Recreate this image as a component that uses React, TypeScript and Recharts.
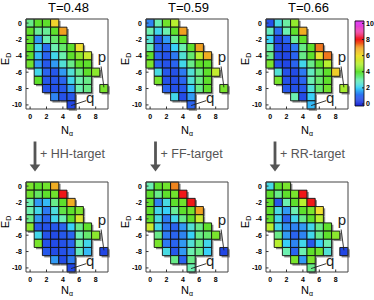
import React from 'react';
import { ComposedChart, XAxis, YAxis, ReferenceArea, ReferenceLine, ReferenceDot, Scatter } from 'recharts';

const _ = null;

// axes categories
const N_ALPHA = [0, 1, 2, 3, 4, 5, 6, 7, 8, 9];
const E_D = [0, -1, -2, -3, -4, -5, -6, -7, -8, -9, -10];
const X_TICKS = [0, 2, 4, 6, 8];
const Y_TICKS = [0, -2, -4, -6, -8, -10];
const CB_TICKS = [0, 2, 4, 6, 8, 10];
const TITLES = ['T=0.48', 'T=0.59', 'T=0.66'];
const TARGETS = ['+ HH-target', '+ FF-target', '+ RR-target'];

// rows: E_D = 0 .. -10, columns: N_alpha = 0 .. 9
const T048 = [
  [3.3, 4, 4, 6.2, _, _, _, _, _, _],
  [4, 3.2, 3.2, 4, 7, _, _, _, _, _],
  [4, 1.5, 3, 3.5, 4, _, _, _, _, _],
  [4, 2.2, 1.1, 3, 3.5, 4, 6, _, _, _],
  [4, 1.8, 1, 2.2, 3, 4, 4.5, 5.3, _, _],
  [4.2, 1.5, 0.8, 1.5, 2.5, 3.3, 4, 4, _, _],
  [_, 2.2, 1, 0.8, 1.5, 2.5, 3.3, 4, 4.5, _],
  [_, 4, 0.8, 0.8, 1, 2.2, 3, 3.3, _, _],
  [_, _, 0.7, 0.7, 0.8, 1.5, 3, 3.3, _, 4.3],
  [_, _, _, 1.3, 0.7, 0.8, _, _, _, _],
  [_, _, _, _, _, 0.5, _, _, _, _],
];
const T059 = [
  [1.3, 3, 4.2, 5, _, _, _, _, _, _],
  [3, 2.2, 3, 4, 7, _, _, _, _, _],
  [2.5, 0.8, 1.5, 3.2, 4, _, _, _, _, _],
  [3, 1, 1, 2, 3, 4, 7, _, _, _],
  [4, 1, 0.7, 1.2, 2.5, 3.5, 5, 6.8, _, _],
  [4.3, 1, 0.7, 1, 2.2, 3.3, 4, 4, _, _],
  [_, 2.3, 0.8, 0.7, 1.2, 2.5, 3.3, 4, 5.2, _],
  [_, 4.3, 0.7, 0.7, 1, 2.5, 3.3, 4, _, _],
  [_, _, 1, 0.7, 0.8, 2, 3.3, 4, _, 4.3],
  [_, _, _, 2.2, 0.6, 1.5, _, _, _, _],
  [_, _, _, _, _, 1, _, _, _, _],
];
const T066 = [
  [0.7, 2.3, 3.1, 4.6, _, _, _, _, _, _],
  [2.8, 1.1, 3, 4, 6.8, _, _, _, _, _],
  [2, 0.5, 1, 3.2, 4, _, _, _, _, _],
  [3, 0.6, 0.6, 1.2, 3.3, 4, 7.3, _, _, _],
  [3.3, 0.6, 0.5, 1, 3.3, 4, 5.9, 7.3, _, _],
  [4.3, 0.7, 0.5, 1, 2.2, 3.3, 4, 5, _, _],
  [_, 2.5, 0.7, 0.6, 1.2, 2.8, 3.5, 4, 6.3, _],
  [_, 4.3, 0.7, 0.6, 1, 3, 3.5, 4, _, _],
  [_, _, 0.8, 0.7, 0.8, 2.5, 3.5, 4.2, _, 4.8],
  [_, _, _, 3, 0.6, 2, _, _, _, _],
  [_, _, _, _, _, 1.8, _, _, _, _],
];
const HH = [
  [4.3, 4, 4.2, 6.8, _, _, _, _, _, _],
  [4.2, 3.6, 4, 4.2, 8, _, _, _, _, _],
  [3, 1.5, 1.8, 3.3, 4, 6.8, _, _, _, _],
  [3, 2.2, 1.2, 2.4, 3.8, 4, 4.3, _, _, _],
  [3.3, 1.5, 1, 2.2, 3, 4, 5.6, _, _, _],
  [4.5, 0.8, 0.7, 0.8, 1, 2, 3.3, 4, _, _],
  [_, 2.2, 0.7, 0.6, 0.8, 1, 3, 3.5, 4.5, _],
  [_, 4.3, 0.7, 0.6, 0.7, 1, 3, 2.2, _, _],
  [_, _, 0.8, 0.6, 0.7, 1, 2.8, 1.8, _, 0.5],
  [_, _, _, 1.5, 0.6, 1.2, _, _, _, _],
  [_, _, _, _, _, 0.5, _, _, _, _],
];
const FF = [
  [3, 4, 4.2, 7.2, _, _, _, _, _, _],
  [4, 3.3, 4, 4.2, 8, _, _, _, _, _],
  [4, 1.3, 2.3, 4, 4.2, 8, _, _, _, _],
  [4, 2.2, 2, 3.2, 4, 4.2, 7, _, _, _],
  [4, 2.3, 1.2, 2.2, 3.3, 4, 5.3, _, _, _],
  [5.3, 2.2, 1.2, 1, 1.5, 2.5, 3.3, 4, _, _],
  [_, 3.3, 1.2, 1, 1.3, 2, 3.3, 3.5, 4.3, _],
  [_, 4.3, 1.2, 1, 1.5, 2.5, 3.3, 2.2, _, _],
  [_, _, 2.3, 0.8, 1.5, 3, 3.3, 2, _, 0.5],
  [_, _, _, 3.3, 1, 3.3, _, _, _, _],
  [_, _, _, _, _, 3, _, _, _, _],
];
const RR = [
  [2.3, 4, 4.3, _, _, _, _, _, _, _],
  [4, 3.3, 4, 4.3, 8, _, _, _, _, _],
  [4, 0.8, 3, 4, 5, 8, _, _, _, _],
  [4, 2.3, 1.5, 3, 4, 4.3, 6, _, _, _],
  [4, 2.2, 1, 2.2, 3.3, 4, 5, _, _, _],
  [5, 2.2, 1.4, 1.3, 1.5, 2.2, 3.3, 4, _, _],
  [_, 3.3, 1.5, 1, 1.3, 2.2, 3.3, 4, 4.5, _],
  [_, 5, 2, 1.3, 2.2, 0.8, 2, 3, _, _],
  [_, _, 3, 1, 3, 4, 4.2, 2.5, _, 0.5],
  [_, _, _, 4.3, 1.5, 4.3, _, _, _, _],
  [_, _, _, _, _, 3.3, _, _, _, _],
];

// colour map (value -> colour), as in the colour bar
const CMAP_VALUES = [0, 1, 2, 3, 4, 5, 6, 7, 8, 9, 10];
const CMAP_COLORS = ['#1828d8', '#2a64f0', '#38d0f8', '#6cf0b0', '#5ee02c', '#b8f030', '#f0e030', '#f0a020', '#f01818', '#f040a8', '#e040f0'];

const CB_MIN = -0.25;
const CB_MAX = 10.3;
const CB_SLICES = 80;

const FONT = "'Liberation Sans', Arial, Helvetica, sans-serif";

function hexRgb(h: string) {
  return [parseInt(h.slice(1, 3), 16), parseInt(h.slice(3, 5), 16), parseInt(h.slice(5, 7), 16)];
}
function colorOf(v: number) {
  const c = Math.max(CMAP_VALUES[0], Math.min(CMAP_VALUES[CMAP_VALUES.length - 1], v));
  let i = 0;
  while (i < CMAP_VALUES.length - 2 && c > CMAP_VALUES[i + 1]) i++;
  const t = (c - CMAP_VALUES[i]) / (CMAP_VALUES[i + 1] - CMAP_VALUES[i]);
  const a = hexRgb(CMAP_COLORS[i]);
  const b = hexRgb(CMAP_COLORS[i + 1]);
  const m = a.map((x, k) => Math.round(x + (b[k] - x) * t));
  return `rgb(${m[0]},${m[1]},${m[2]})`;
}

type Cell = { n: number; e: number; v: number };
function cellsOf(grid: (number | null)[][]): Cell[] {
  const out: Cell[] = [];
  grid.forEach((row, ri) =>
    row.forEach((v, ci) => {
      if (v !== null && v !== undefined) out.push({ n: N_ALPHA[ci], e: E_D[ri], v });
    })
  );
  return out;
}

const tickStyle = { fontSize: 7, fontWeight: 700, fill: '#000' };

const Y_AXIS_W = 29;

function Panel({ grid, left, top, nBase }: { grid: (number | null)[][]; left: number; top: number; nBase: number }) {
  const cells = cellsOf(grid);
  const SH = 0.22;
  return (
    <div style={{ position: 'absolute', left: left - (Y_AXIS_W - 25), top }}>
      <ComposedChart width={110 + (Y_AXIS_W - 25)} height={124} margin={{ top: 2, right: 3, bottom: 0, left: 0 }}>
        <XAxis
          type="number"
          dataKey="n"
          domain={[-0.5, 9.5]}
          ticks={X_TICKS}
          interval={0}
          allowDataOverflow
          height={32}
          axisLine={false}
          tickSize={-2.5}
          tickMargin={7.5}
          tickLine={{ stroke: '#333' }}
          tick={tickStyle}
          label={{
            content: (p: any) => {
              const vb = p.viewBox || {};
              return (
                <text x={vb.x + vb.width / 2} y={vb.y + nBase} textAnchor="middle" fontSize={11} fill="#000">
                  N
                  <tspan fontSize={7} dy={2}>α</tspan>
                </text>
              );
            },
          }}
        />
        <YAxis
          type="number"
          dataKey="e"
          domain={[-10.5, 0.5]}
          ticks={Y_TICKS}
          interval={0}
          allowDataOverflow
          width={Y_AXIS_W}
          axisLine={false}
          tickSize={-2.5}
          tickMargin={6.5}
          tickLine={{ stroke: '#333' }}
          tick={tickStyle}
          label={{
            content: (p: any) => {
              const vb = p.viewBox || {};
              const cx = vb.x + vb.width - 17;
              const cy = vb.y + 40;
              return (
                <text x={cx} y={cy} transform={`rotate(-90 ${cx} ${cy})`} textAnchor="middle" fontSize={11} fill="#000">
                  E
                  <tspan fontSize={7} dy={2}>D</tspan>
                </text>
              );
            },
          }}
        />
        {cells.map((c, i) => (
          <ReferenceArea
            key={'s' + i}
            x1={c.n - 0.5 + SH}
            x2={c.n + 0.5 + SH}
            y1={c.e - 0.5 - SH}
            y2={c.e + 0.5 - SH}
            fill="#8c8c8c"
            fillOpacity={1}
            stroke="none"
            ifOverflow="visible"
          />
        ))}
        {cells.map((c, i) => (
          <ReferenceArea
            key={'c' + i}
            x1={c.n - 0.5}
            x2={c.n + 0.5}
            y1={c.e - 0.5}
            y2={c.e + 0.5}
            fill={colorOf(c.v)}
            fillOpacity={1}
            stroke="#111"
            strokeWidth={0.9}
            ifOverflow="visible"
          />
        ))}
        <ReferenceArea x1={-0.5} x2={9.5} y1={-10.5} y2={0.5} fill="none" fillOpacity={0} stroke="#444" strokeWidth={1} ifOverflow="visible" />
        <ReferenceLine segment={[{ x: 8.66, y: -5.3 }, { x: 9.0, y: -7.85 }]} stroke="#222" strokeWidth={0.9} ifOverflow="visible" />
        <ReferenceLine segment={[{ x: 6.84, y: -9.48 }, { x: 5.0, y: -10.08 }]} stroke="#222" strokeWidth={0.9} ifOverflow="visible" />
        <ReferenceDot x={8.77} y={-4.1} r={0} fill="none" stroke="none" ifOverflow="visible" label={{ value: 'p', position: 'center', fontSize: 15, fill: '#222' }} />
        <ReferenceDot x={7.34} y={-9.17} r={0} fill="none" stroke="none" ifOverflow="visible" label={{ value: 'q', position: 'center', fontSize: 15, fill: '#222' }} />
        <Scatter data={cells} dataKey="e" fill="none" isAnimationActive={false} shape={() => <g />} />
      </ComposedChart>
    </div>
  );
}

function ColorBar() {
  const step = (CB_MAX - CB_MIN) / CB_SLICES;
  const slices = Array.from({ length: CB_SLICES }, (_x, i) => {
    const lo = CB_MIN + i * step;
    return { lo, hi: lo + step, color: colorOf(lo + step / 2) };
  });
  const anchor = [{ x: 0, y: CB_MIN }, { x: 1, y: CB_MAX }];
  return (
    <div style={{ position: 'absolute', left: 352, top: 18.7 }}>
      <ComposedChart width={23} height={89} margin={{ top: 2, right: 0, bottom: 2, left: 3 }}>
        <XAxis type="number" dataKey="x" domain={[0, 1]} hide allowDataOverflow />
        <YAxis
          type="number"
          dataKey="y"
          orientation="right"
          domain={[CB_MIN, CB_MAX]}
          ticks={CB_TICKS}
          interval={0}
          allowDataOverflow
          width={11}
          axisLine={false}
          tickSize={-2}
          tickMargin={4}
          tickLine={{ stroke: '#222' }}
          tick={tickStyle}
        />
        {slices.map((s, i) => (
          <ReferenceArea key={i} x1={0} x2={1} y1={s.lo} y2={s.hi + step * 0.3} fill={s.color} fillOpacity={1} stroke="none" ifOverflow="visible" />
        ))}
        <ReferenceArea x1={0} x2={1} y1={CB_MIN} y2={CB_MAX} fill="none" fillOpacity={0} stroke="#000" strokeWidth={0.8} ifOverflow="visible" />
        <Scatter data={anchor} dataKey="y" fill="none" isAnimationActive={false} shape={() => <g />} />
      </ComposedChart>
    </div>
  );
}

const PANEL_LEFTS = [0.5, 120.5, 240.5];
const ARROW_X = [35, 155.5, 275];

export default function App() {
  const topGrids = [T048, T059, T066];
  const botGrids = [HH, FF, RR];
  return (
    <div style={{ position: 'absolute', left: 0, top: 0, width: 374, height: 300, background: '#fff', fontFamily: FONT, overflow: 'hidden' }}>
      {TITLES.map((t, i) => (
        <div
          key={t}
          style={{ position: 'absolute', left: PANEL_LEFTS[i] + 25, width: 82, top: 0, textAlign: 'center', fontSize: 13, lineHeight: '15px', color: '#000', paddingLeft: 2 }}
        >
          {t}
        </div>
      ))}
      {topGrids.map((g, i) => (
        <Panel key={'t' + i} grid={g} left={PANEL_LEFTS[i]} top={16.5} nBase={24.5} />
      ))}
      {botGrids.map((g, i) => (
        <Panel key={'b' + i} grid={g} left={PANEL_LEFTS[i]} top={179.7} nBase={22} />
      ))}
      <ColorBar />
      <svg width={374} height={300} style={{ position: 'absolute', left: 0, top: 0, pointerEvents: 'none' }}>
        {ARROW_X.map((x, i) => (
          <g key={i}>
            <line x1={x} y1={141.5} x2={x} y2={166} stroke="#555" strokeWidth={2.8} />
            <polygon points={`${x - 5.3},${164.5} ${x + 5.3},${164.5} ${x},${171.5}`} fill="#555" />
            <text x={x + 5} y={157.5} fontSize={12.5} fill="#555">
              {TARGETS[i]}
            </text>
          </g>
        ))}
      </svg>
    </div>
  );
}
